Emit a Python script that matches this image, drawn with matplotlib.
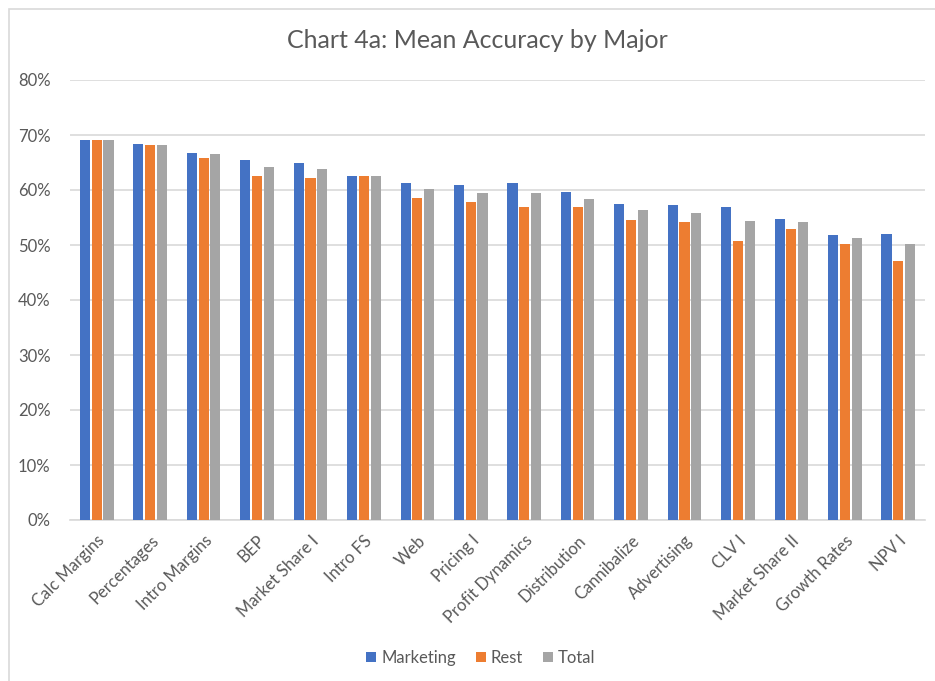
import matplotlib
matplotlib.use("agg")

import numpy as np
import matplotlib.pyplot as plt
from matplotlib.patches import Rectangle
from matplotlib.ticker import FuncFormatter

topics = ["Calc Margins", "Percentages", "Intro Margins", "BEP", "Market Share I",
          "Intro FS", "Web", "Pricing I", "Profit Dynamics", "Distribution",
          "Cannibalize", "Advertising", "CLV I", "Market Share II", "Growth Rates", "NPV I"]
marketing = [69.1, 68.4, 66.8, 65.4, 64.9, 62.6, 61.2, 60.9, 61.2, 59.6, 57.4, 57.2, 56.9, 54.7, 51.8, 52.0]
rest      = [69.1, 68.2, 65.9, 62.6, 62.1, 62.5, 58.6, 57.8, 56.9, 56.9, 54.5, 54.2, 50.7, 53.0, 50.2, 47.1]
total     = [69.1, 68.2, 66.5, 64.2, 63.8, 62.5, 60.1, 59.5, 59.5, 58.4, 56.4, 55.9, 54.4, 54.1, 51.3, 50.1]

plt.rcParams["font.family"] = ["Lato", "DejaVu Sans"]
txt = "#595959"

fig = plt.figure(figsize=(9.35, 6.81), dpi=100)
ax = fig.add_axes([70 / 935, 1 - 520 / 681, 855 / 935, 440 / 681])

# chart-area border, cut off at right and bottom like the screenshot
fig.patches.append(Rectangle((9 / 935, -0.01), 1.0, 1 - 9 / 681 + 0.01, transform=fig.transFigure,
                             fill=False, edgecolor="#D9D9D9", linewidth=1.2))

x = np.arange(len(topics))
w, step = 0.19, 0.22
ax.bar(x - step, marketing, w, color="#4472C4", label="Marketing", zorder=3)
ax.bar(x, rest, w, color="#ED7D31", label="Rest", zorder=3)
ax.bar(x + step, total, w, color="#A5A5A5", label="Total", zorder=3)

ax.set_xlim(-0.5, len(topics) - 0.5)
ax.set_ylim(0, 80)
ax.set_yticks(range(0, 81, 10))
ax.yaxis.set_major_formatter(FuncFormatter(lambda v, _: f"{v:.0f}%"))
ax.grid(axis="y", color="#D9D9D9", linewidth=1.2, zorder=0)
for s in ["top", "right", "left"]:
    ax.spines[s].set_visible(False)
ax.spines["bottom"].set_color("#D9D9D9")
ax.spines["bottom"].set_linewidth(1.2)
ax.tick_params(length=0, colors=txt, labelsize=12)
ax.tick_params(axis="y", pad=14)
ax.tick_params(axis="x", pad=9)
ax.set_xticks(x)
ax.set_xticklabels(topics, rotation=45, ha="right", rotation_mode="anchor")

fig.text(477 / 935, 1 - 40 / 681, "Chart 4a: Mean Accuracy by Major", ha="center", va="center",
         fontsize=18, color=txt)

fig.legend(loc="center", bbox_to_anchor=(481 / 935, 1 - 658 / 681), ncol=3, frameon=False,
           fontsize=12, labelcolor=txt, handlelength=0.6, handleheight=0.6,
           handletextpad=0.3, columnspacing=1.2)

plt.savefig("out.png", dpi=100)
plt.close(fig)
